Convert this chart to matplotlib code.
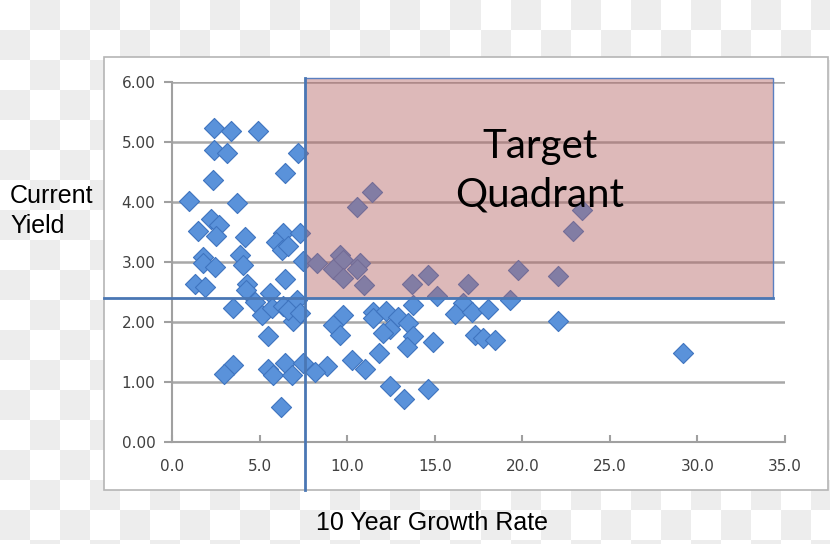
import numpy as np
import matplotlib.pyplot as plt
from matplotlib.patches import Rectangle

# 10 year growth rate (x) and current yield (y)
growth = [2.42, 3.35, 4.93, 2.42, 3.16, 7.21, 6.45, 2.32, 0.97, 3.69,
          2.21, 2.70, 1.50, 2.51, 4.17, 6.36, 5.94, 7.31, 6.26, 6.64,
          1.79, 3.88, 1.75, 2.46, 4.04, 6.45, 1.31, 1.88, 4.27, 4.23,
          5.60, 4.74, 3.47, 5.12, 5.69, 6.36, 7.12, 6.93, 5.50, 3.50,
          2.97, 5.50, 5.79, 6.45, 6.83, 7.50, 6.22, 6.60, 7.30,
          11.40, 10.58, 7.50, 8.26, 9.59, 9.79, 9.21, 10.74, 10.58, 9.79,
          10.97, 13.69, 14.60, 15.11, 13.78, 9.79, 9.21, 9.59, 11.50, 11.50,
          12.22, 12.89, 13.50, 12.45, 12.07, 13.78, 13.40, 14.92, 11.84, 10.26,
          11.02, 8.87, 8.17, 12.45, 13.25, 14.64,
          16.92, 19.78, 22.06, 19.30, 16.64, 16.16, 17.11, 18.07, 22.06, 17.30,
          17.78, 18.45, 23.40, 22.88, 29.20]
yield_ = [5.23, 5.19, 5.19, 4.86, 4.82, 4.82, 4.49, 4.36, 4.02, 3.99,
          3.71, 3.62, 3.52, 3.43, 3.42, 3.48, 3.34, 3.49, 3.20, 3.26,
          3.09, 3.12, 2.98, 2.91, 2.95, 2.71, 2.64, 2.58, 2.64, 2.54,
          2.49, 2.34, 2.23, 2.12, 2.23, 2.26, 2.37, 2.01, 1.77, 1.28,
          1.13, 1.21, 1.12, 1.32, 1.12, 1.31, 0.59, 2.20, 2.15,
          4.16, 3.92, 3.01, 2.98, 3.12, 3.03, 2.89, 2.99, 2.88, 2.74,
          2.62, 2.64, 2.78, 2.43, 2.28, 2.12, 1.95, 1.78, 2.17, 2.06,
          2.19, 2.09, 1.98, 1.89, 1.81, 1.76, 1.59, 1.67, 1.48, 1.36,
          1.21, 1.26, 1.17, 0.93, 0.71, 0.88,
          2.64, 2.86, 2.77, 2.37, 2.31, 2.14, 2.17, 2.21, 2.02, 1.78,
          1.73, 1.70, 3.87, 3.51, 1.48]

growth_cut = 7.6
yield_cut = 2.4
quad_right = 34.3
quad_top = 6.07

W, H = 830, 544
fig = plt.figure(figsize=(W / 100, H / 100), dpi=100)

# checkerboard backdrop (transparent png look)
bg = fig.add_axes([0, 0, 1, 1], zorder=-10)
cell = 30
ny, nx = H // cell + 2, W // cell + 2
checker = (np.add.outer(np.arange(ny), np.arange(nx)) % 2).astype(float)
bg.imshow(checker, cmap='Greys', vmin=0, vmax=7, interpolation='nearest',
          extent=[0, nx * cell, ny * cell, 0], aspect='auto')
bg.set_xlim(0, W)
bg.set_ylim(H, 0)
bg.axis('off')
# white chart box
bg.add_patch(Rectangle((104, 57), 724, 433, facecolor='white',
                       edgecolor='#b5b5b5', linewidth=1.2))

ax = fig.add_axes([172 / W, 1 - 442 / H, 613 / W, 360 / H])
ax.set_facecolor('none')
ax.set_xlim(0, 35)
ax.set_ylim(0, 6)
ax.set_xticks(np.arange(0, 36, 5))
ax.set_yticks(np.arange(0, 7, 1))
ax.set_xticklabels(['%.1f' % v for v in np.arange(0, 36, 5)])
ax.set_yticklabels(['%.2f' % v for v in np.arange(0, 7, 1)])
ax.yaxis.grid(True, color='#a8a8a8', linewidth=1.8)
ax.set_axisbelow(True)
for s in ['top', 'right']:
    ax.spines[s].set_visible(False)
for s in ['left', 'bottom']:
    ax.spines[s].set_color('#a0a0a0')
    ax.spines[s].set_linewidth(1.5)
ax.tick_params(axis='y', direction='out', length=6, width=1.5, color='#a0a0a0',
               labelsize=11, labelcolor='#404040', pad=6)
ax.tick_params(axis='x', direction='in', length=5, width=1.5, color='#a0a0a0',
               labelsize=11, labelcolor='#404040', pad=12)

ax.scatter(growth, yield_, marker='D', s=105, facecolor='#5a92da',
           edgecolor='#3f74bf', linewidth=0.8, zorder=3)

# target quadrant
ax.add_patch(Rectangle((growth_cut, yield_cut), quad_right - growth_cut,
                       quad_top - yield_cut, facecolor='#b46464', alpha=0.45,
                       edgecolor='none', zorder=4, clip_on=False))
ax.add_patch(Rectangle((growth_cut, yield_cut), quad_right - growth_cut,
                       quad_top - yield_cut, facecolor='none',
                       edgecolor='#5a7fc0', linewidth=1.0, zorder=5, clip_on=False))
ax.axvline(growth_cut, ymin=-0.133, ymax=1.011, color='#4a77b4', linewidth=2,
           clip_on=False, zorder=6)
ax.axhline(yield_cut, xmin=-0.111, xmax=(quad_right / 35), color='#4a77b4',
           linewidth=2, clip_on=False, zorder=6)

ax.text(21.0, 4.52, 'Target\nQuadrant', ha='center', va='center',
        fontsize=29, family='Lato', linespacing=1.4, zorder=7)

fig.text(10 / W, 1 - 211 / H, 'Current\nYield', ha='left', va='center',
         fontsize=18, family='Liberation Sans', linespacing=1.3)
fig.text(432 / W, 1 - 523 / H, '10 Year Growth Rate', ha='center', va='center',
         fontsize=18, family='Liberation Sans')

fig.savefig('out.png', dpi=100)
